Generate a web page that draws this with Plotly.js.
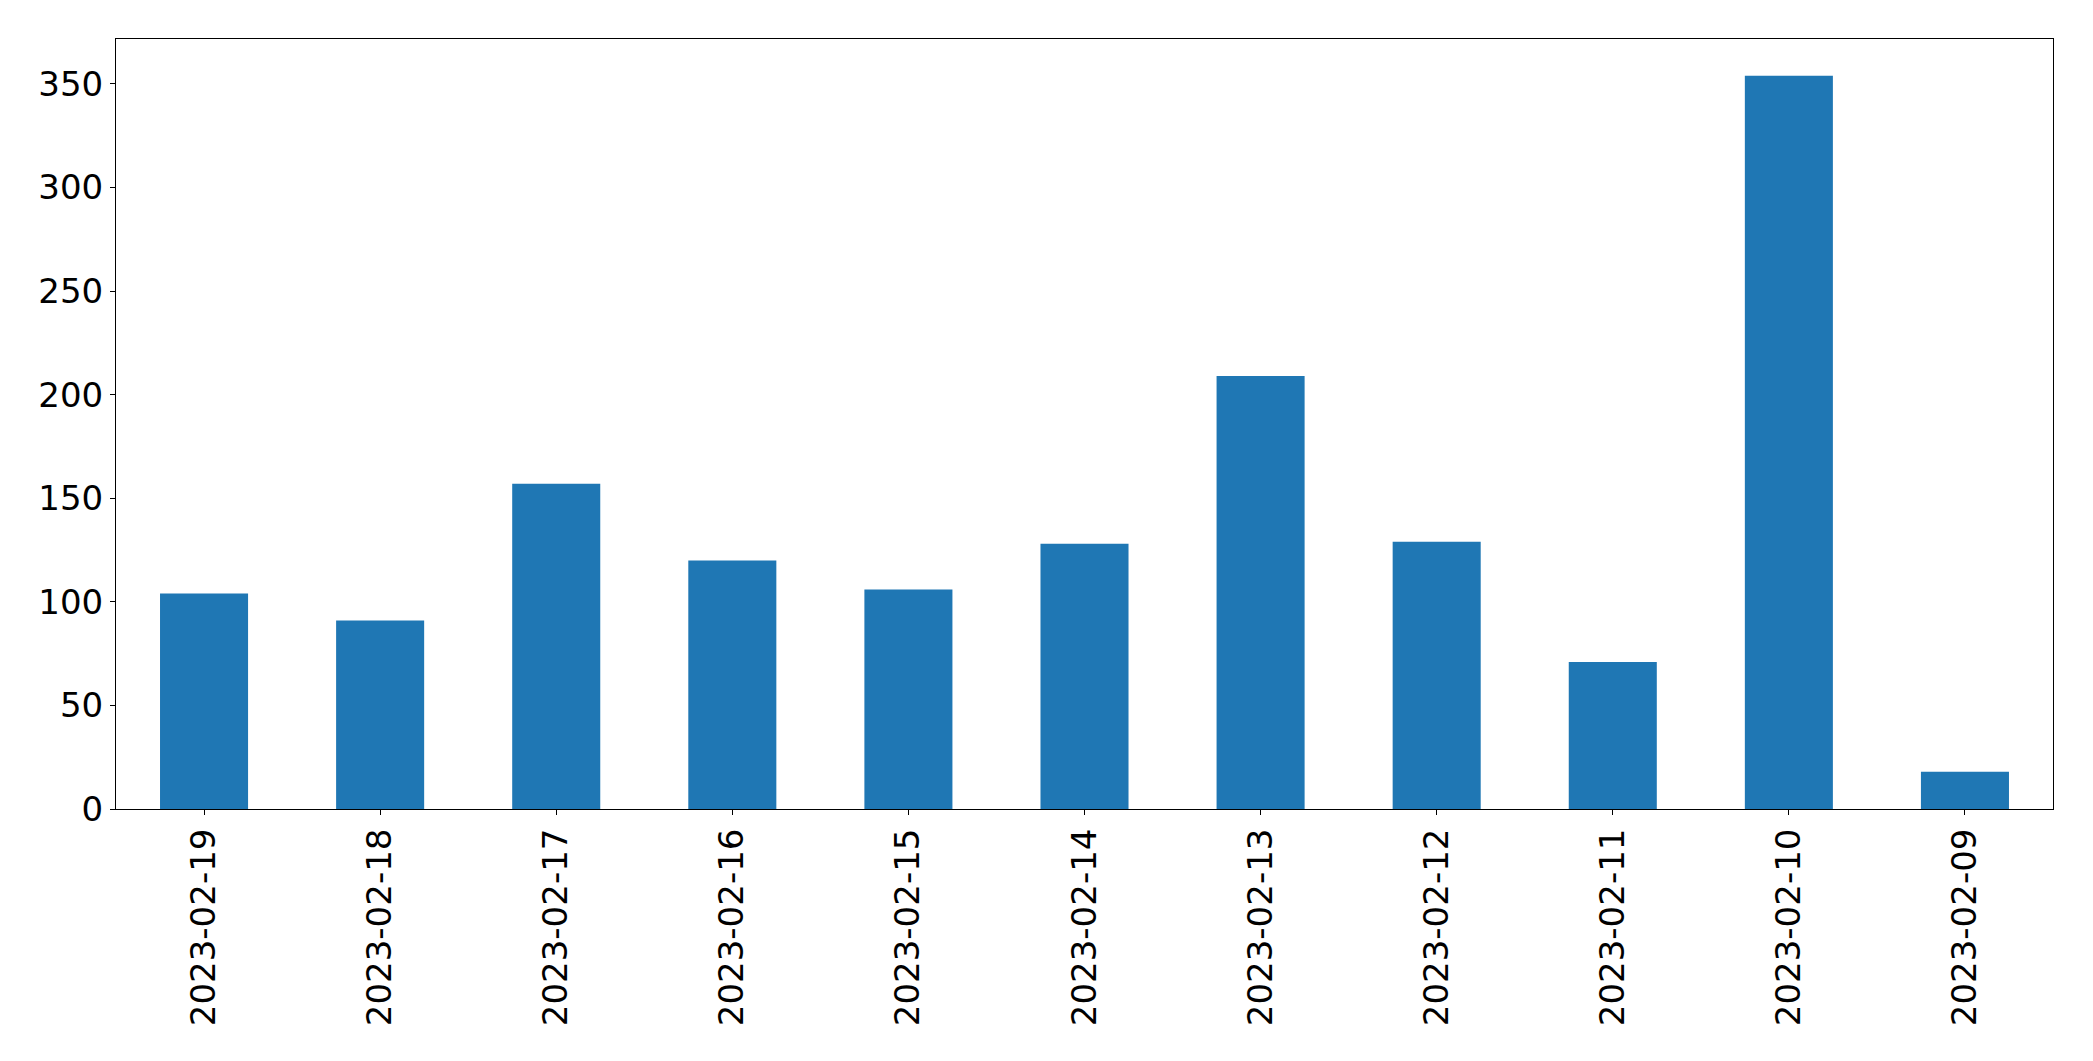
<!DOCTYPE html>
<html>
<head>
<meta charset="utf-8">
<script src="https://cdn.plot.ly/plotly-3.0.1.min.js"></script>
<style>html,body{margin:0;padding:0;background:#fff;}#chart{width:2093px;height:1061px;}</style>
</head>
<body>
<div id="chart"></div>
<script>
const dates = ["2023-02-19","2023-02-18","2023-02-17","2023-02-16","2023-02-15","2023-02-14","2023-02-13","2023-02-12","2023-02-11","2023-02-10","2023-02-09"];
const counts = [104, 91, 157, 120, 106, 128, 209, 129, 71, 354, 18];
const yTicks = [0, 50, 100, 150, 200, 250, 300, 350];

const fontFamily = "DejaVu Sans, sans-serif";
const trace = {
  type: "bar",
  x: dates,
  y: counts,
  width: 0.5,
  marker: {color: "#1f77b4", line: {width: 0}},
  hoverinfo: "x+y"
};
const layout = {
  width: 2093,
  height: 1061,
  margin: {l: 116, r: 40, t: 39, b: 252, pad: 0},
  paper_bgcolor: "#fff",
  plot_bgcolor: "#fff",
  showlegend: false,
  font: {family: fontFamily, size: 34, color: "#000"},
  xaxis: {
    type: "category",
    range: [-0.5, dates.length - 0.5],
    tickangle: -90,
    ticks: "outside",
    ticklen: 5,
    tickwidth: 1,
    tickcolor: "#000",
    showline: true,
    linecolor: "#000",
    linewidth: 1,
    mirror: true,
    showgrid: false,
    zeroline: false,
    tickfont: {family: fontFamily, size: 34, color: "#000"}
  },
  yaxis: {
    range: [0, Math.max(...counts) * 1.05],
    tickvals: yTicks,
    ticktext: yTicks.map(String),
    ticks: "outside",
    ticklen: 5,
    tickwidth: 1,
    tickcolor: "#000",
    showline: true,
    linecolor: "#000",
    linewidth: 1,
    mirror: true,
    showgrid: false,
    zeroline: false,
    tickfont: {family: fontFamily, size: 34, color: "#000"}
  }
};
Plotly.newPlot("chart", [trace], layout, {displayModeBar: false, staticPlot: true});
</script>
</body>
</html>
